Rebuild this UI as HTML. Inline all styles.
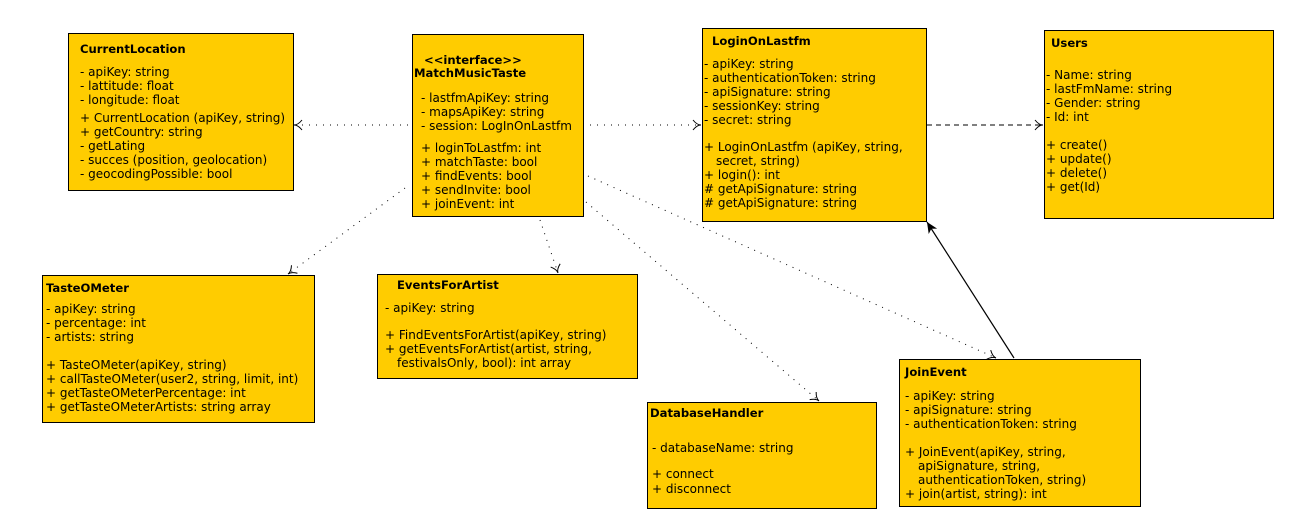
<!DOCTYPE html>
<html><head><meta charset="utf-8"><style>
html,body{margin:0;padding:0;background:#fff;width:1289px;height:525px;overflow:hidden}
text{font-family:"DejaVu Sans","Liberation Sans",sans-serif;font-size:12px;fill:#000}
.b{font-weight:bold;font-size:11.6px}
rect{fill:#ffcc00;stroke:#000;stroke-width:1}
</style></head><body>
<svg width="1289" height="525" xmlns="http://www.w3.org/2000/svg">
<defs>
<marker id="o" markerWidth="12" markerHeight="12" refX="10" refY="6" orient="auto" markerUnits="userSpaceOnUse">
<path d="M2,1 Q6,6 10,6 Q6,6 2,11" fill="none" stroke="#000" stroke-width="1"/></marker>
<marker id="f" markerWidth="14" markerHeight="14" refX="12" refY="7" orient="auto" markerUnits="userSpaceOnUse">
<path d="M1,2 L12,7 L1,12 L4,7 Z" fill="#000"/></marker>
</defs>
<g fill="none" stroke="#000">
<line x1="583" y1="125" x2="294" y2="125" stroke-dasharray="1,6" marker-end="url(#o)"/>
<line x1="590" y1="125" x2="701" y2="125" stroke-dasharray="1,6" marker-end="url(#o)"/>
<line x1="927" y1="125" x2="1043" y2="125" stroke-dasharray="5,4" marker-end="url(#o)"/>
<line x1="405" y1="188" x2="288" y2="274" stroke-dasharray="1,6" marker-end="url(#o)"/>
<line x1="540" y1="220" x2="558" y2="273" stroke-dasharray="1,6" marker-end="url(#o)"/>
<line x1="586" y1="202" x2="819" y2="401" stroke-dasharray="1,6" marker-end="url(#o)"/>
<line x1="588" y1="176" x2="996" y2="358" stroke-dasharray="1,6" marker-end="url(#o)"/>
<line x1="1014" y1="358" x2="927" y2="222" stroke-width="1.2" marker-end="url(#f)"/>
</g>
<rect x="68.5" y="33.5" width="225" height="157"/>
<text x="80" y="53" class="b">CurrentLocation</text>
<text x="80" y="76">- apiKey: string</text>
<text x="80" y="90">- lattitude: float</text>
<text x="80" y="104">- longitude: float</text>
<text x="80" y="122">+ CurrentLocation (apiKey, string)</text>
<text x="80" y="136">+ getCountry: string</text>
<text x="80" y="150">- getLating</text>
<text x="80" y="164">- succes (position, geolocation)</text>
<text x="80" y="178">- geocodingPossible: bool</text>

<rect x="412.5" y="34.5" width="171" height="182"/>
<text x="424" y="64" class="b">&lt;&lt;interface&gt;&gt;</text>
<text x="414" y="77" class="b">MatchMusicTaste</text>
<text x="421" y="102">- lastfmApiKey: string</text>
<text x="421" y="116">- mapsApiKey: string</text>
<text x="421" y="130">- session: LogInOnLastfm</text>
<text x="421" y="152">+ loginToLastfm: int</text>
<text x="421" y="166">+ matchTaste: bool</text>
<text x="421" y="180">+ findEvents: bool</text>
<text x="421" y="194">+ sendInvite: bool</text>
<text x="421" y="208">+ joinEvent: int</text>

<rect x="702.5" y="28.5" width="224" height="193"/>
<text x="712" y="45" class="b">LoginOnLastfm</text>
<text x="704" y="68">- apiKey: string</text>
<text x="704" y="82">- authenticationToken: string</text>
<text x="704" y="96">- apiSignature: string</text>
<text x="704" y="110">- sessionKey: string</text>
<text x="704" y="124">- secret: string</text>
<text x="704" y="151">+ LoginOnLastfm (apiKey, string,</text>
<text x="716" y="165">secret, string)</text>
<text x="704" y="179">+ login(): int</text>
<text x="704" y="193"># getApiSignature: string</text>
<text x="704" y="207"># getApiSignature: string</text>

<rect x="1044.5" y="30.5" width="229" height="188"/>
<text x="1051" y="47" class="b">Users</text>
<text x="1046" y="79">- Name: string</text>
<text x="1046" y="93">- lastFmName: string</text>
<text x="1046" y="107">- Gender: string</text>
<text x="1046" y="121">- Id: int</text>
<text x="1046" y="149">+ create()</text>
<text x="1046" y="163">+ update()</text>
<text x="1046" y="177">+ delete()</text>
<text x="1046" y="191">+ get(Id)</text>

<rect x="42.5" y="275.5" width="272" height="147"/>
<text x="46" y="292" class="b">TasteOMeter</text>
<text x="46" y="313">- apiKey: string</text>
<text x="46" y="327">- percentage: int</text>
<text x="46" y="341">- artists: string</text>
<text x="46" y="369">+ TasteOMeter(apiKey, string)</text>
<text x="46" y="383">+ callTasteOMeter(user2, string, limit, int)</text>
<text x="46" y="397">+ getTasteOMeterPercentage: int</text>
<text x="46" y="411">+ getTasteOMeterArtists: string array</text>

<rect x="377.5" y="274.5" width="260" height="104"/>
<text x="397" y="289" class="b">EventsForArtist</text>
<text x="385" y="312">- apiKey: string</text>
<text x="385" y="339">+ FindEventsForArtist(apiKey, string)</text>
<text x="385" y="353">+ getEventsForArtist(artist, string,</text>
<text x="397" y="367">festivalsOnly, bool): int array</text>

<rect x="647.5" y="402.5" width="229" height="106"/>
<text x="650" y="417" class="b">DatabaseHandler</text>
<text x="652" y="452">- databaseName: string</text>
<text x="652" y="478">+ connect</text>
<text x="652" y="493">+ disconnect</text>

<rect x="899.5" y="359.5" width="241" height="147"/>
<text x="905" y="376" class="b">JoinEvent</text>
<text x="905" y="400">- apiKey: string</text>
<text x="905" y="414">- apiSignature: string</text>
<text x="905" y="428">- authenticationToken: string</text>
<text x="905" y="456">+ JoinEvent(apiKey, string,</text>
<text x="918" y="470">apiSignature, string,</text>
<text x="918" y="484">authenticationToken, string)</text>
<text x="905" y="498">+ join(artist, string): int</text>
</svg>
</body></html>
